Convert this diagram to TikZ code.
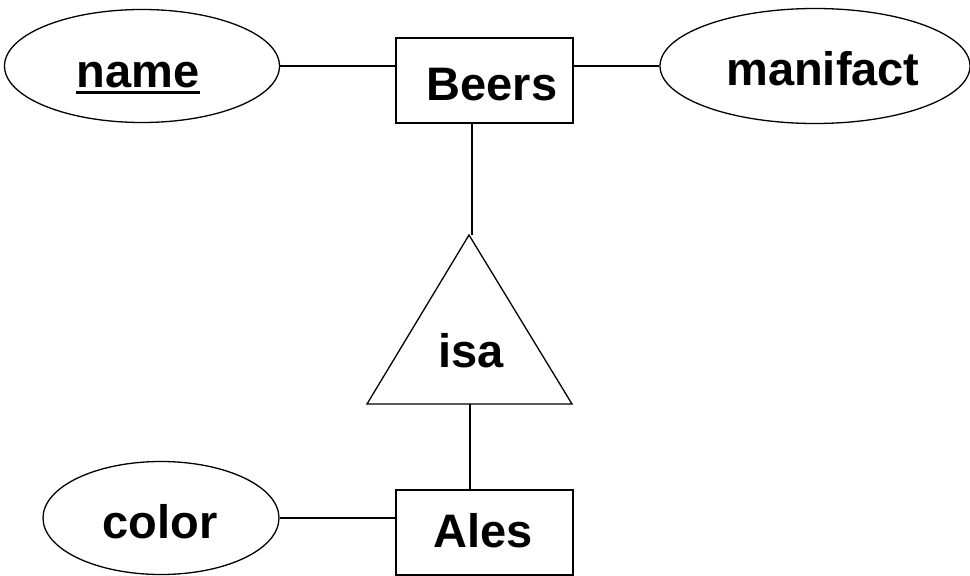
\documentclass[tikz,border=0pt]{standalone}
\usepackage{fontspec}
\setmainfont{Liberation Sans}
\usetikzlibrary{shapes.geometric}
\begin{document}
\begin{tikzpicture}[x=1pt,y=-1pt,
  line width=1.3pt,
  attr/.style={draw,ellipse,inner sep=0pt},
  ent/.style={draw,rectangle,inner sep=0pt},
  lbl/.style={font=\fontsize{47}{50}\selectfont\bfseries,anchor=base,inner sep=0pt},
  conn/.style={line width=1.1pt}]
\useasboundingbox (0,0) rectangle (970,576);
% attributes
\node[attr,minimum width=275pt,minimum height=113pt] (name) at (142,66) {};
\node[attr,minimum width=310pt,minimum height=115pt] (manifact) at (815,66) {};
\node[attr,minimum width=236pt,minimum height=113pt] (color) at (161,518) {};
% entities
\node[ent,minimum width=177pt,minimum height=85pt] (beers) at (484.5,80.5) {};
\node[ent,minimum width=177pt,minimum height=85pt] (ales) at (484.5,532.5) {};
% isa triangle
\coordinate (apex) at (469,235);
\coordinate (bl) at (367,404);
\coordinate (br) at (572,404);
\draw (apex) -- (bl) -- (br) -- cycle;
\coordinate (apexin) at (472,235);
\coordinate (basemid) at (470,404);
% labels
\node[lbl] (tname) at (138,87) {name};
\draw[line width=3pt] ([yshift=-5pt]tname.base west) -- ([yshift=-5pt]tname.base east);
\node[lbl] (tbeers) at (492,100) {Beers};
\node[lbl] (tmanifact) at (823,85) {manifact};
\node[lbl] (tisa) at (471,367) {isa};
\node[lbl] (tcolor) at (160,538) {color};
\node[lbl] (tales) at (483,547) {Ales};
% connectors
\draw[conn] (name.east) -- (beers.west |- name.east);
\draw[conn] (beers.east |- manifact.west) -- (manifact.west);
\draw[conn] (beers.south -| apexin) -- (apexin);
\draw[conn] (basemid) -- (ales.north -| basemid);
\draw[conn] (color.east) -- (ales.west |- color.east);
\end{tikzpicture}
\end{document}
